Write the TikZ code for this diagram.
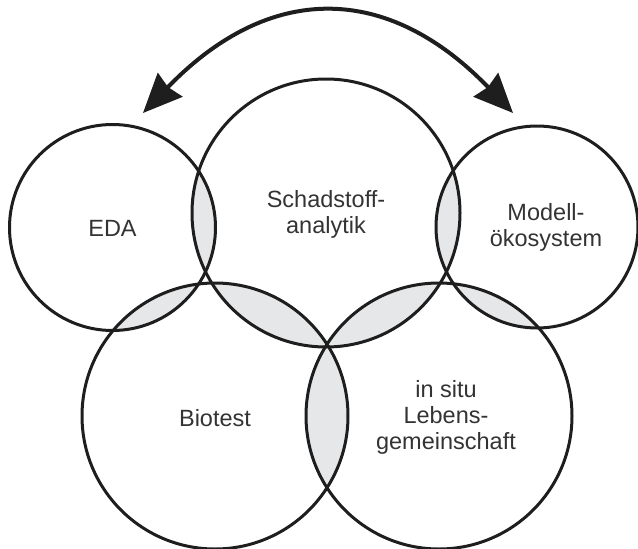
\documentclass[tikz,border=0pt]{standalone}
\usepackage{fontspec}
\setmainfont{Liberation Sans}
\usetikzlibrary{arrows.meta}
\definecolor{lensgray}{HTML}{E6E7E8}
\definecolor{ink}{HTML}{1E1E1E}
\definecolor{txt}{HTML}{333333}
\begin{document}
\begin{tikzpicture}[x=1pt,y=-1pt,
  ring/.style={draw=ink,line width=3pt},
  lens/.style={fill=lensgray},
  lbl/.style={text=txt,font=\fontsize{23.5}{26}\selectfont,align=center,inner sep=0pt},
  bigarrow/.style={draw=ink,line width=4pt,
    {Stealth[length=39pt,width=34pt,inset=3pt]}-{Stealth[length=39pt,width=34pt,inset=3pt]}}]
\useasboundingbox (0,0) rectangle (638,549);
% circle centres
\coordinate (cE) at (112.5,227.5);
\coordinate (cS) at (326,213);
\coordinate (cM) at (537,227);
\coordinate (cB) at (215,416);
\coordinate (cL) at (439,416);
% lenses
\begin{scope}\clip (cE) circle (103pt); \fill[lens] (cS) circle (134pt);\end{scope}
\begin{scope}\clip (cE) circle (103pt); \fill[lens] (cB) circle (133pt);\end{scope}
\begin{scope}\clip (cS) circle (134pt); \fill[lens] (cM) circle (101pt);\end{scope}
\begin{scope}\clip (cS) circle (134pt); \fill[lens] (cB) circle (133pt);\end{scope}
\begin{scope}\clip (cS) circle (134pt); \fill[lens] (cL) circle (133pt);\end{scope}
\begin{scope}\clip (cM) circle (101pt); \fill[lens] (cL) circle (133pt);\end{scope}
\begin{scope}\clip (cB) circle (133pt); \fill[lens] (cL) circle (133pt);\end{scope}
% rings
\draw[ring] (cE) circle (103pt);
\draw[ring] (cS) circle (134pt);
\draw[ring] (cM) circle (101pt);
\draw[ring] (cB) circle (133pt);
\draw[ring] (cL) circle (133pt);
% labels (anchor=base is the baseline of the last line)
\node[lbl,anchor=base] (eda) at (112.5,236) {EDA};
\node[lbl,anchor=base] (schad) at (326,233) {Schadstoff-\\analytik};
\node[lbl,anchor=base] (modell) at (546,246) {Modell-\\ökosystem};
\node[lbl,anchor=base] (bio) at (215,426) {Biotest};
\node[lbl,anchor=base] (leben) at (446,449) {in situ\\Lebens-\\gemeinschaft};
% arrow
\coordinate (aL) at (143,113);
\coordinate (aR) at (513,113);
\draw[bigarrow] (aL) .. controls (269,-17.7) and (387,-17.7) .. (aR);
\end{tikzpicture}
\end{document}
